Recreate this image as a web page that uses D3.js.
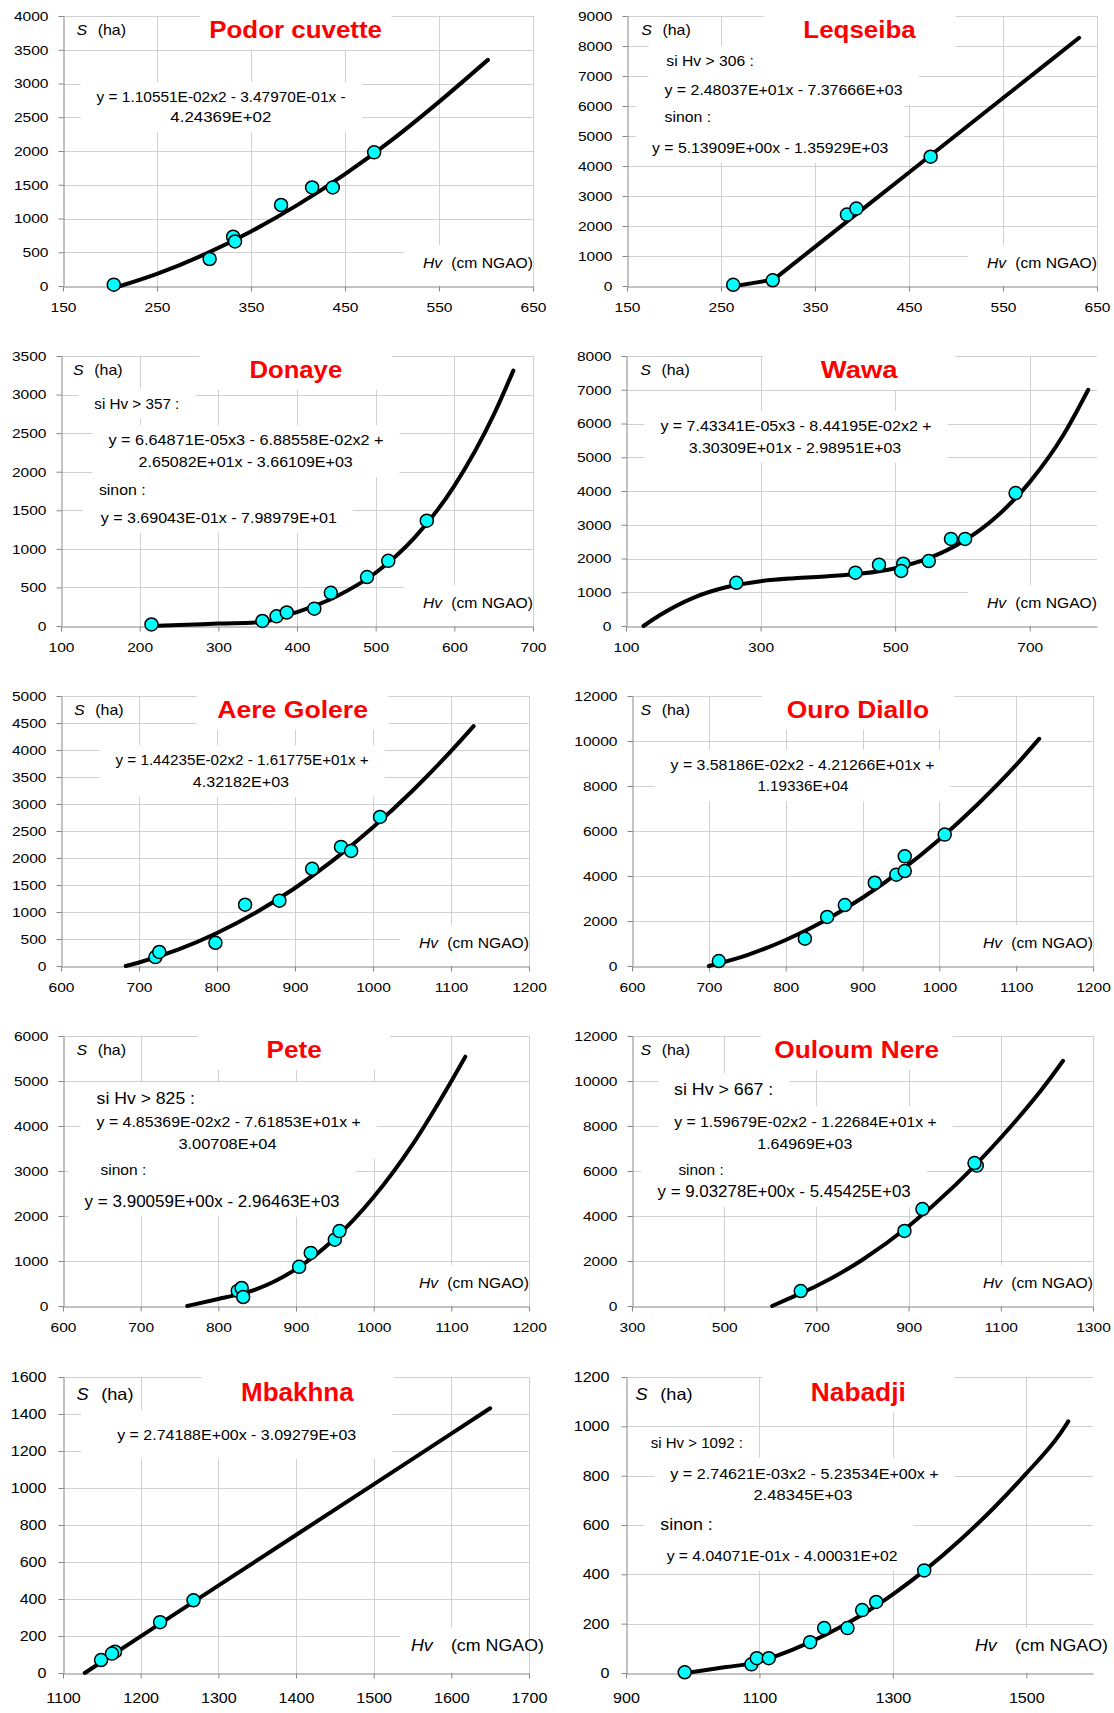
<!DOCTYPE html>
<html>
<head>
<meta charset="utf-8">
<script src="https://cdn.jsdelivr.net/npm/d3@7"></script>
<style>
  body { margin: 0; background: #fff; }
  svg text { font-family: "Liberation Sans", Arial, sans-serif; }
</style>
</head>
<body>
<svg id="chart" width="1114" height="1713"></svg>
<script>
//==================================
// Data
//==================================
var titles = ["Podor cuvette", "Leqseiba", "Donaye", "Wawa", "Aere Golere",
              "Ouro Diallo", "Pete", "Ouloum Nere", "Mbakhna", "Nabadji"];

// observed points [Hv, S] and fitted curve [Hv, S]
var podorPoints = [[204,20],[306,400],[331,730],[333,660],[382,1200],[415,1460],[437,1460],[481,1980]];
var podorCurve = [[211,0],[250,180],[300,465],[350,808],[400,1205],[450,1658],[500,2165],[550,2728],[602,3350]];
var podorXTicks = [150,250,350,450,550,650];
var podorYTicks = [0,500,1000,1500,2000,2500,3000,3500,4000];
var podorText = ["y = 1.10551E-02x2 - 3.47970E-01x -", "4.24369E+02"];

var leqseibaPoints = [[263,40],[305,190],[384,2380],[394,2580],[473,4310]];
var leqseibaCurve = [[265,0],[285,105],[306,213],[350,1305],[400,2545],[450,3785],[500,5025],[550,6265],[600,7505],[631,8275]];
var leqseibaXTicks = [150,250,350,450,550,650];
var leqseibaYTicks = [0,1000,2000,3000,4000,5000,6000,7000,8000,9000];
var leqseibaText = ["si Hv > 306 :", "y = 2.48037E+01x - 7.37666E+03", "sinon :", "y = 5.13909E+00x - 1.35929E+03"];

var donayePoints = [[215,20],[356,65],[374,125],[387,175],[422,225],[443,430],[489,635],[516,845],[565,1365]];
var donayeCurve = [[215,0],[250,12],[300,31],[357,52],[375,103],[400,180],[450,383],[500,690],[550,1151],[600,1817],[650,2736],[675,3310]];
var donayeXTicks = [100,200,300,400,500,600,700];
var donayeYTicks = [0,500,1000,1500,2000,2500,3000,3500];
var donayeText = ["si Hv > 357 :", "y = 6.64871E-05x3 - 6.88558E-02x2 +", "2.65082E+01x - 3.66109E+03", "sinon :", "y = 3.69043E-01x - 7.98979E+01"];

var wawaPoints = [[264,1280],[441,1580],[476,1815],[512,1845],[509,1630],[550,1925],[583,2580],[604,2580],[679,3940]];
var wawaCurve = [[126,0],[150,317],[200,835],[250,1154],[300,1329],[350,1417],[400,1473],[450,1553],[500,1713],[550,2008],[600,2494],[650,3227],[700,4263],[750,5657],[787,7000]];
var wawaXTicks = [100,300,500,700];
var wawaXRange = [100,800];
var wawaYTicks = [0,1000,2000,3000,4000,5000,6000,7000,8000];
var wawaText = ["y = 7.43341E-05x3 - 8.44195E-02x2 +", "3.30309E+01x - 2.98951E+03"];

var aerePoints = [[721,165],[726,260],[798,430],[836,1135],[880,1210],[922,1800],[959,2205],[972,2130],[1009,2760]];
var aereCurve = [[683,0],[700,65],[750,302],[800,611],[850,992],[900,1445],[950,1970],[1000,2568],[1050,3237],[1100,3979],[1129,4442]];
var aereXTicks = [600,700,800,900,1000,1100,1200];
var aereYTicks = [0,500,1000,1500,2000,2500,3000,3500,4000,4500,5000];
var aereText = ["y = 1.44235E-02x2 - 1.61775E+01x +", "4.32182E+03"];

var ouroPoints = [[713,220],[825,1215],[854,2180],[877,2710],[916,3700],[944,4060],[955,4220],[955,4875],[1007,5840]];
var ouroCurve = [[700,0],[750,487],[800,1156],[850,2005],[900,3033],[950,4240],[1000,5626],[1050,7191],[1100,8935],[1130,10100]];
var ouroXTicks = [600,700,800,900,1000,1100,1200];
var ouroYTicks = [0,2000,4000,6000,8000,10000,12000];
var ouroText = ["y = 3.58186E-02x2 - 4.21266E+01x +", "1.19336E+04"];

var petePoints = [[825,335],[830,400],[832,200],[904,870],[919,1180],[950,1475],[956,1665]];
var peteCurve = [[760,0],[800,156],[825,253],[850,381],[900,819],[950,1499],[1000,2422],[1050,3588],[1100,4997],[1118,5540]];
var peteXTicks = [600,700,800,900,1000,1100,1200];
var peteYTicks = [0,1000,2000,3000,4000,5000,6000];
var peteText = ["si Hv > 825 :", "y = 4.85369E-02x2 - 7.61853E+01x +", "3.00708E+04", "sinon :", "y = 3.90059E+00x - 2.96463E+03"];

var ouloumPoints = [[666,665],[891,3335],[930,4310],[1048,6240],[1043,6355]];
var ouloumCurve = [[604,0],[640,327],[667,571],[700,886],[800,2055],[900,3542],[1000,5349],[1100,7476],[1200,9921],[1235,10900]];
var ouloumXTicks = [300,500,700,900,1100,1300];
var ouloumYTicks = [0,2000,4000,6000,8000,10000,12000];
var ouloumText = ["si Hv > 667 :", "y = 1.59679E-02x2 - 1.22684E+01x +", "1.64969E+03", "sinon :", "y = 9.03278E+00x - 5.45425E+03"];

var mbakhnaPoints = [[1149,70],[1167,115],[1163,105],[1225,275],[1268,393]];
var mbakhnaCurve = [[1128,0],[1200,198],[1300,472],[1400,746],[1500,1020],[1600,1294],[1650,1431]];
var mbakhnaXTicks = [1100,1200,1300,1400,1500,1600,1700];
var mbakhnaYTicks = [0,200,400,600,800,1000,1200,1400,1600];
var mbakhnaText = ["y = 2.74188E+00x - 3.09279E+03"];

var nabadjiPoints = [[988,3],[1088,35],[1096,60],[1114,60],[1176,125],[1197,182],[1232,182],[1254,255],[1275,288],[1347,416]];
var nabadjiCurve = [[990,0],[1050,24],[1092,41],[1150,95],[1200,156],[1250,230],[1300,319],[1350,421],[1400,537],[1450,666],[1500,809],[1550,967],[1563,1020]];
var nabadjiXTicks = [900,1100,1300,1500];
var nabadjiXRange = [900,1600];
var nabadjiYTicks = [0,200,400,600,800,1000,1200];
var nabadjiText = ["si Hv > 1092 :", "y = 2.74621E-03x2 - 5.23534E+00x +", "2.48345E+03", "sinon :", "y = 4.04071E-01x - 4.00031E+02"];

function ends(a) { return [a[0], a[a.length - 1]]; }

var panels = [
  { points: podorPoints, curve: podorCurve, xTicks: podorXTicks, xDomain: ends(podorXTicks), yTicks: podorYTicks, text: podorText },
  { points: leqseibaPoints, curve: leqseibaCurve, xTicks: leqseibaXTicks, xDomain: ends(leqseibaXTicks), yTicks: leqseibaYTicks, text: leqseibaText },
  { points: donayePoints, curve: donayeCurve, xTicks: donayeXTicks, xDomain: ends(donayeXTicks), yTicks: donayeYTicks, text: donayeText },
  { points: wawaPoints, curve: wawaCurve, xTicks: wawaXTicks, xDomain: wawaXRange, yTicks: wawaYTicks, text: wawaText },
  { points: aerePoints, curve: aereCurve, xTicks: aereXTicks, xDomain: ends(aereXTicks), yTicks: aereYTicks, text: aereText },
  { points: ouroPoints, curve: ouroCurve, xTicks: ouroXTicks, xDomain: ends(ouroXTicks), yTicks: ouroYTicks, text: ouroText },
  { points: petePoints, curve: peteCurve, xTicks: peteXTicks, xDomain: ends(peteXTicks), yTicks: peteYTicks, text: peteText },
  { points: ouloumPoints, curve: ouloumCurve, xTicks: ouloumXTicks, xDomain: ends(ouloumXTicks), yTicks: ouloumYTicks, text: ouloumText },
  { points: mbakhnaPoints, curve: mbakhnaCurve, xTicks: mbakhnaXTicks, xDomain: ends(mbakhnaXTicks), yTicks: mbakhnaYTicks, text: mbakhnaText },
  { points: nabadjiPoints, curve: nabadjiCurve, xTicks: nabadjiXTicks, xDomain: nabadjiXRange, yTicks: nabadjiYTicks, text: nabadjiText }
];

//==================================
// Layout (plot frame, label positions relative to plot's top-left)
// lines: [x, y, anchor, width, fontSize, boxGroup]
//==================================
var layout = [
  { frame: [62.7, 15.7, 532.9, 285.7], big: false, sLab: [13.5, 34.7], title: [232.6, 22, 172.8],
    lines: [[158.1, 86, "middle", 249, 14.5, 0], [157.8, 106, "middle", 101, 14.5, 0]] },
  { frame: [626.8, 15.7, 1097, 285.7], big: false, linear: true, sLab: [14.2, 35.4], title: [232.5, 22, 112.3],
    lines: [[39.3, 50, "start", 87.5, 14.5, 0], [156.5, 78.6, "middle", 238, 14.5, 0],
            [37.5, 106, "start", 46.7, 14.5, 1], [143.2, 137, "middle", 236.2, 14.5, 1]] },
  { frame: [60.6, 355.7, 532.9, 625.7], big: false, sLab: [12, 33.3], title: [234.8, 22, 92.8],
    lines: [[33.3, 52.6, "start", 85, 14.5, 0], [185, 89.3, "middle", 275.1, 14.5, 1], [184.7, 111, "middle", 214.2, 14.5, 1],
            [37.9, 139.3, "start", 46.7, 14.5, 2], [157.8, 167, "middle", 236.2, 14.5, 2]] },
  { frame: [626.1, 355.7, 1097, 625.7], big: false, sLab: [14.2, 35.4], title: [233.2, 22, 76.8],
    lines: [[170, 75, "middle", 271.2, 14.5, 0], [168.9, 96.6, "middle", 212.5, 14.5, 0]] },
  { frame: [60.6, 695.7, 528.7, 965.7], big: false, sLab: [13.1, 34.3], title: [231.6, 22, 150.8],
    lines: [[181.1, 69.3, "middle", 253.2, 14.5, 0], [179.9, 91, "middle", 96.3, 14.5, 0]] },
  { frame: [631.7, 695.7, 1092.8, 965.7], big: false, sLab: [8.5, 29.7], title: [225.9, 22, 142.4],
    lines: [[170.5, 73.6, "middle", 263.8, 14.5, 0], [170.9, 95.3, "middle", 91, 14.5, 0]] },
  { frame: [62.7, 1035.7, 528.7, 1305.7], big: false, sLab: [13.5, 34.7], title: [231.2, 22, 55.2],
    lines: [[33.6, 68.3, "start", 98.4, 16.5, 0], [165.7, 91, "middle", 264.2, 15.5, 0], [164.5, 112.6, "middle", 98.1, 15.5, 0],
            [37.5, 139.3, "start", 45.7, 15, 1], [149.1, 171, "middle", 255, 16.5, 1]] },
  { frame: [631.7, 1035.7, 1092.8, 1305.7], big: false, sLab: [8.5, 29.7], title: [224.7, 22, 164.7],
    lines: [[42.1, 59.3, "start", 99.2, 16.5, 0], [173.5, 91, "middle", 262.7, 15.5, 1], [172.8, 112.6, "middle", 94.9, 15.5, 1],
            [46.4, 139.3, "start", 45.3, 15, 2], [152.1, 161, "middle", 253.2, 16.5, 2]] },
  { frame: [62.7, 1377.3, 528.7, 1673.3], big: true, linear: true, sLab: [13.5, 38.2], title: [234.4, 24.4, 112.6], pad: [36, 16],
    lines: [[173.7, 62.7, "middle", 239, 15.5, 0]] },
  { frame: [626.1, 1377.3, 1092.8, 1673.3], big: true, sLab: [9.6, 34.3], title: [232.3, 24.4, 94.9],
    lines: [[24.8, 71, "start", 92.1, 15, 0], [178.5, 101.7, "middle", 268.4, 15.5, 1], [177, 123.4, "middle", 99.2, 15.5, 1],
            [34.3, 153.4, "start", 52.4, 16, 2], [156.1, 183.7, "middle", 230.9, 15.5, 2]] }
];

var svg = d3.select("#chart");
svg.append("rect").attr("width", 1114).attr("height", 1713).attr("fill", "#fff");

var gridColor = "#d0d0d0";
var axisColor = "#868686";

// widen text horizontally like the original rendering
function stretch(sel, k) {
  sel.each(function() {
    var w = this.getComputedTextLength();
    d3.select(this).attr("textLength", w * k).attr("lengthAdjust", "spacingAndGlyphs");
  });
}

panels.forEach(function(p, i) {
  var lay = layout[i];
  var L = Math.round(lay.frame[0]), T = Math.round(lay.frame[1]);
  var R = Math.round(lay.frame[2]), B = Math.round(lay.frame[3]);
  var big = lay.big;

  var x = d3.scaleLinear().domain(p.xDomain).range([L, R]);
  var y = d3.scaleLinear().domain([0, p.yTicks[p.yTicks.length - 1]]).range([B, T]);

  var g = svg.append("g").attr("class", "panel");

  // gridlines
  g.append("g").selectAll("line")
    .data(p.yTicks.slice(1))
    .enter().append("line")
    .attr("x1", L).attr("x2", R)
    .attr("y1", function(d) { return Math.round(y(d)) + 0.5; })
    .attr("y2", function(d) { return Math.round(y(d)) + 0.5; })
    .attr("stroke", gridColor);

  g.append("g").selectAll("line")
    .data(p.xTicks.slice(1))
    .enter().append("line")
    .attr("y1", T).attr("y2", B)
    .attr("x1", function(d) { return Math.round(x(d)) + 0.5; })
    .attr("x2", function(d) { return Math.round(x(d)) + 0.5; })
    .attr("stroke", gridColor);

  // axes
  var tickFont = big ? 14 : 13.5;
  var yAxis = d3.axisLeft(y).tickValues(p.yTicks).tickSize(5).tickSizeOuter(0)
    .tickPadding(big ? 12 : 10).tickFormat(d3.format("d"));
  var xAxis = d3.axisBottom(x).tickValues(p.xTicks).tickSize(5).tickSizeOuter(0)
    .tickPadding(big ? 15 : 11).tickFormat(d3.format("d"));

  var ya = g.append("g").attr("transform", "translate(" + (L + 0.5) + ",0)").call(yAxis);
  var xa = g.append("g").attr("transform", "translate(0," + (B + 0.5) + ")").call(xAxis);
  [ya, xa].forEach(function(a) {
    a.select(".domain").attr("stroke", axisColor);
    a.selectAll(".tick line").attr("stroke", axisColor);
    a.selectAll(".tick text").attr("fill", "#000").style("font-size", tickFont + "px")
      .style("font-family", "'Liberation Sans', Arial, sans-serif");
    stretch(a.selectAll(".tick text"), 1.15);
  });

  // text boxes + texts (below the series so markers stay visible)
  var boxLayer = g.append("g");
  var textLayer = g.append("g");

  // title box and title
  var tb = lay.title;
  boxLayer.append("rect")
    .attr("x", L + tb[0] - 96).attr("y", T - 1)
    .attr("width", 192).attr("height", big ? 37 : 35)
    .attr("fill", "#fff");
  textLayer.append("text")
    .attr("x", L + tb[0]).attr("y", T + tb[1])
    .attr("text-anchor", "middle")
    .attr("font-weight", "bold")
    .attr("fill", "#ff0000")
    .style("font-size", (big ? 26 : 24) + "px")
    .attr("textLength", tb[2])
    .attr("lengthAdjust", "spacingAndGlyphs")
    .text(titles[i]);

  // S (ha)
  var labFont = big ? 16.5 : 14.5;
  var sy = T + (big ? 22.7 : 19.3);
  var sT = textLayer.append("text").attr("x", L + lay.sLab[0]).attr("y", sy)
    .style("font-size", labFont + "px").style("font-style", "italic").text("S");
  var hT = textLayer.append("text").attr("x", L + lay.sLab[1]).attr("y", sy)
    .style("font-size", labFont + "px").text("(ha)");
  stretch(sT, 1.1);
  stretch(hT, 1.1);

  // Hv (cm NGAO)
  var hvBoxH = big ? 45 : 41;
  boxLayer.append("rect")
    .attr("x", R - 129).attr("y", B - hvBoxH)
    .attr("width", 129).attr("height", hvBoxH - 0.5)
    .attr("fill", "#fff");
  var hy = B - (big ? 21.6 : 18.5);
  var hv = textLayer.append("text").attr("x", R - (big ? 118 : 110)).attr("y", hy)
    .style("font-size", labFont + "px").style("font-style", "italic").text("Hv");
  var cm = textLayer.append("text").attr("x", R + (big ? 15 : 0)).attr("y", hy)
    .attr("text-anchor", "end")
    .style("font-size", labFont + "px").text("(cm NGAO)");
  stretch(hv, 1.08);
  stretch(cm, 1.08);

  // equation lines
  var groups = {};
  lay.lines.forEach(function(ln, k) {
    var t = textLayer.append("text")
      .attr("x", L + ln[0]).attr("y", T + ln[1])
      .attr("text-anchor", ln[2])
      .style("font-size", ln[4] + "px")
      .attr("textLength", ln[3])
      .attr("lengthAdjust", "spacingAndGlyphs")
      .text(p.text[k]);
    var bb = t.node().getBBox();
    var gr = groups[ln[5]];
    if (!gr) {
      groups[ln[5]] = [bb.x, bb.y, bb.x + bb.width, bb.y + bb.height];
    } else {
      gr[0] = Math.min(gr[0], bb.x); gr[1] = Math.min(gr[1], bb.y);
      gr[2] = Math.max(gr[2], bb.x + bb.width); gr[3] = Math.max(gr[3], bb.y + bb.height);
    }
  });

  var pad = lay.pad || [16, 7];
  Object.keys(groups).forEach(function(key) {
    var b = groups[key];
    var x0 = Math.max(b[0] - pad[0], L + 1);
    boxLayer.append("rect")
      .attr("x", x0)
      .attr("y", b[1] - pad[1])
      .attr("width", b[2] + pad[0] - x0)
      .attr("height", b[3] - b[1] + 2 * pad[1])
      .attr("fill", "#fff");
  });

  // fitted curve
  var line = d3.line()
    .x(function(d) { return x(d[0]); })
    .y(function(d) { return y(d[1]); })
    .curve(lay.linear ? d3.curveLinear : d3.curveMonotoneX);

  g.append("path")
    .datum(p.curve)
    .attr("d", line)
    .attr("fill", "none")
    .attr("stroke", "#000")
    .attr("stroke-width", 4)
    .attr("stroke-linejoin", "round")
    .attr("stroke-linecap", "round");

  // observed points
  g.append("g").selectAll("circle")
    .data(p.points)
    .enter().append("circle")
    .attr("cx", function(d) { return x(d[0]); })
    .attr("cy", function(d) { return y(d[1]); })
    .attr("r", 6.5)
    .attr("fill", "#00ffff")
    .attr("stroke", "#000")
    .attr("stroke-width", 1.5);
});
</script>
</body>
</html>
